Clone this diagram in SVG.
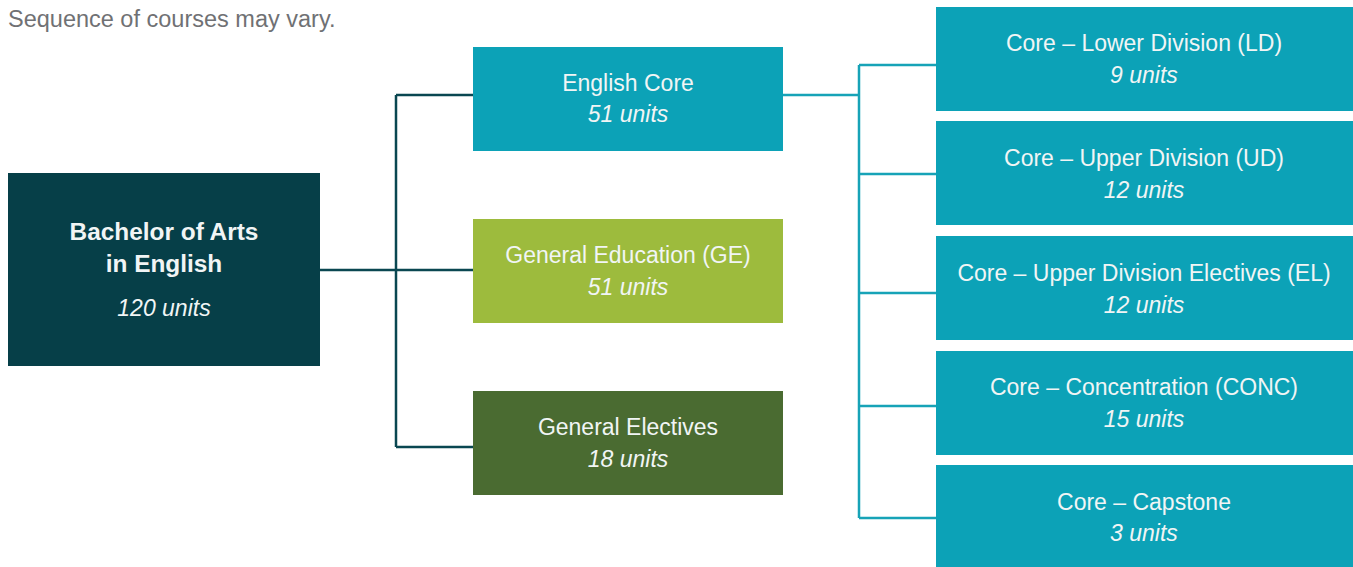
<svg xmlns="http://www.w3.org/2000/svg" width="1353" height="567" viewBox="0 0 1353 567">
  <style>
    text { font-family: "Liberation Sans", Arial, Helvetica, sans-serif; text-anchor: middle; fill: #f1f5f5; font-size: 23px; }
    .u { font-style: italic; }
    .b { font-weight: bold; font-size: 24.4px; }
    .cap { text-anchor: start; fill: #707174; font-size: 23.5px; }
    .dark { fill: #063f48; }
    .teal { fill: #0ca2b7; }
    .ge { fill: #9dbb3d; }
    .el { fill: #4a6b31; }
    .ld { fill: none; stroke: #0a4751; stroke-width: 2.5; }
    .lt { fill: none; stroke: #17a3b7; stroke-width: 2.5; }
  </style>
  <rect width="1353" height="567" fill="#ffffff"/>
  <text class="cap" x="8" y="27">Sequence of courses may vary.</text>

  <g id="connectors">
    <path class="ld" d="M320 270 H473 M396 95 V447 M396 95 H473 M396 447 H473"/>
    <path class="lt" d="M783 95 H859 M859 65 V518 M859 65 H936 M859 174 H936 M859 293 H936 M859 406 H936 M859 518 H936"/>
  </g>

  <g id="root">
    <rect class="dark" x="8" y="173" width="312" height="193"/>
    <text class="b" x="164" y="240">Bachelor of Arts</text>
    <text class="b" x="164" y="272">in English</text>
    <text class="u" x="164" y="316">120 units</text>
  </g>

  <g id="english-core">
    <rect class="teal" x="473" y="47" width="310" height="104"/>
    <text x="628" y="91">English Core</text>
    <text class="u" x="628" y="122">51 units</text>
  </g>

  <g id="general-education">
    <rect class="ge" x="473" y="219" width="310" height="104"/>
    <text x="628" y="263">General Education (GE)</text>
    <text class="u" x="628" y="295">51 units</text>
  </g>

  <g id="general-electives">
    <rect class="el" x="473" y="391" width="310" height="104"/>
    <text x="628" y="435">General Electives</text>
    <text class="u" x="628" y="467">18 units</text>
  </g>

  <g id="core-ld">
    <rect class="teal" x="936" y="7" width="417" height="104"/>
    <text x="1144" y="51">Core – Lower Division (LD)</text>
    <text class="u" x="1144" y="83">9 units</text>
  </g>

  <g id="core-ud">
    <rect class="teal" x="936" y="121" width="417" height="104"/>
    <text x="1144" y="166">Core – Upper Division (UD)</text>
    <text class="u" x="1144" y="198">12 units</text>
  </g>

  <g id="core-el">
    <rect class="teal" x="936" y="236" width="417" height="104"/>
    <text x="1144" y="281">Core – Upper Division Electives (EL)</text>
    <text class="u" x="1144" y="313">12 units</text>
  </g>

  <g id="core-conc">
    <rect class="teal" x="936" y="351" width="417" height="104"/>
    <text x="1144" y="395">Core – Concentration (CONC)</text>
    <text class="u" x="1144" y="427">15 units</text>
  </g>

  <g id="core-capstone">
    <rect class="teal" x="936" y="465" width="417" height="104"/>
    <text x="1144" y="510">Core – Capstone</text>
    <text class="u" x="1144" y="541">3 units</text>
  </g>
</svg>
